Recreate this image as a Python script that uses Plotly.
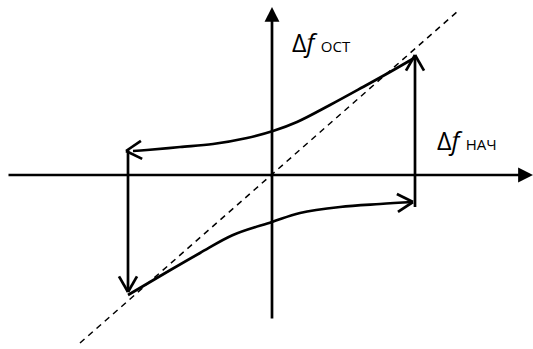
import numpy as np
import plotly.graph_objects as go

# Diagram units: 1 unit = 1 px, origin where the axes cross
upper_x = [144, 118, 91, 58, 25, 1, -25, -59, -92, -125, -139]
upper_y = [118, 103, 88, 70, 53, 44, 37, 31, 28, 25, 24]

lower_x = [-144, -105, -72, -39, 0, 28, 68, 108, 141]
lower_y = [-120, -97, -78, -60, -47, -38, -32, -29, -27]

diag_x = [-192, 186]
diag_y = [-168, 164]

# vertical jumps (x, y_start, y_end)
left_jump = (-144, 25, -117)
right_jump = (143, -32, 120)

x_axis = (-265, 261)
y_axis = (-145, 168)

label_ost = "Δ<i>f</i> <span style='font-size:15px'>ОСТ</span>"
label_nach = "Δ<i>f</i> <span style='font-size:15px'>НАЧ</span>"

black = "black"
fig = go.Figure()

# dashed diagonal
fig.add_trace(go.Scatter(x=diag_x, y=diag_y, mode="lines",
                         line=dict(color=black, width=1.5, dash="6px,5px"),
                         hoverinfo="skip"))

# curves
fig.add_trace(go.Scatter(x=upper_x, y=upper_y, mode="lines",
                         line=dict(color=black, width=2.7, shape="spline"),
                         hoverinfo="skip"))
fig.add_trace(go.Scatter(x=lower_x, y=lower_y, mode="lines",
                         line=dict(color=black, width=2.7, shape="spline"),
                         hoverinfo="skip"))

# vertical jumps
for xv, y0, y1 in [left_jump, right_jump]:
    fig.add_trace(go.Scatter(x=[xv, xv], y=[y0, y1], mode="lines",
                             line=dict(color=black, width=2.7),
                             hoverinfo="skip"))


def barbs(tip, direction, length=18, angle=30):
    """open V arrowhead at tip, pointing along direction"""
    d = np.array(direction, dtype=float)
    d = d / np.linalg.norm(d)
    xs, ys = [], []
    for a in (angle, -angle):
        t = np.radians(180 + a)
        rot = np.array([d[0] * np.cos(t) - d[1] * np.sin(t),
                        d[0] * np.sin(t) + d[1] * np.cos(t)])
        xs += [tip[0] + rot[0] * length, tip[0], None]
        ys += [tip[1] + rot[1] * length, tip[1], None]
    return xs, ys


heads = [
    ((upper_x[-1] - 7, upper_y[-1]), (upper_x[-1] - upper_x[-2], upper_y[-1] - upper_y[-2])),
    ((lower_x[-1], lower_y[-1]), (lower_x[-1] - lower_x[-2], lower_y[-1] - lower_y[-2])),
    ((left_jump[0], left_jump[2]), (0, -1)),
    ((right_jump[0], right_jump[2]), (0, 1)),
]
for tip, d in heads:
    bx, by = barbs(tip, d)
    fig.add_trace(go.Scatter(x=bx, y=by, mode="lines",
                             line=dict(color=black, width=2.7),
                             hoverinfo="skip"))

# axes with filled arrowheads
fig.add_annotation(x=x_axis[1], y=0, ax=x_axis[0], ay=0, xref="x", yref="y",
                   axref="x", ayref="y", showarrow=True, arrowhead=2,
                   arrowwidth=2.7, arrowsize=1.1, arrowcolor=black, text="")
fig.add_annotation(x=0, y=y_axis[1], ax=0, ay=y_axis[0], xref="x", yref="y",
                   axref="x", ayref="y", showarrow=True, arrowhead=2,
                   arrowwidth=2.7, arrowsize=1.1, arrowcolor=black, text="")

fig.add_annotation(x=18, y=133, text=label_ost, showarrow=False, xanchor="left",
                   yanchor="middle", font=dict(size=25, color=black, family="Open Sans"))
fig.add_annotation(x=163, y=35, text=label_nach, showarrow=False, xanchor="left",
                   yanchor="middle", font=dict(size=25, color=black, family="Open Sans"))

fig.update_layout(
    width=533, height=349,
    margin=dict(l=0, r=0, t=0, b=0),
    paper_bgcolor="white", plot_bgcolor="white",
    showlegend=False,
    xaxis=dict(range=[-272, 261], visible=False, fixedrange=True),
    yaxis=dict(range=[-174, 175], visible=False, fixedrange=True),
)

fig.write_html("out.html", config={"displayModeBar": False},
               post_script="document.body.style.margin='0';")
